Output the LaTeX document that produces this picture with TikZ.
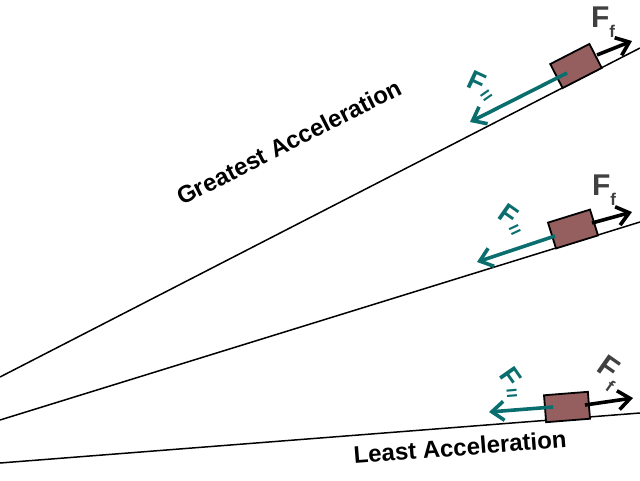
\documentclass[tikz,border=0pt]{standalone}
\usepackage{fontspec}
\setmainfont{Liberation Sans}
\usetikzlibrary{arrows.meta}
\definecolor{teal1}{RGB}{10,110,110}
\definecolor{brick}{RGB}{150,95,95}
\begin{document}
\begin{tikzpicture}[x=1pt,y=-1pt,
 slope/.style={line width=1.5pt},
 blk/.style={draw,line width=1.8pt,fill=brick,minimum width=44pt,minimum height=27pt,inner sep=0pt},
 ff/.style={-{Straight Barb[length=12pt,width=19pt,line width=3.6pt]},line width=3.6pt},
 fp/.style={teal1,-{Straight Barb[length=12pt,width=19pt,line width=3.6pt]},line width=3.6pt},
 lab/.style={font=\bfseries\fontsize{24}{24}\selectfont},
 fl/.style={font=\bfseries\fontsize{30}{30}\selectfont,text=black!75},
 fpl/.style={font=\bfseries\fontsize{27}{27}\selectfont,text=teal1}]
\useasboundingbox (0,0) rectangle (640,480);
\coordinate (t1) at (0,377); \coordinate (t2) at (640,48);
\coordinate (m1) at (0,420); \coordinate (m2) at (640,222);
\coordinate (b1) at (0,463); \coordinate (b2) at (640,413);
\draw[slope] (t1) -- (t2);
\draw[slope] (m1) -- (m2);
\draw[slope] (b1) -- (b2);
% top
\node[blk,rotate=27.2] (B1) at (576,66) {};
\coordinate (B1e) at (632,41); \coordinate (B1w) at (470,122);
\draw[ff] (597,55) -- (B1e);
\draw[fp] (567,73) -- (B1w);
\node[fl] (F1) at (603,22) {F\raisebox{-0.35em}{\fontsize{17}{17}\selectfont f}};
\node[fpl,rotate=-25] (P1) at (482,88) {F\raisebox{-0.3em}{\rotatebox{60}{\fontsize{20}{20}\selectfont =}}};
% middle
\node[blk,rotate=17.2] (B2) at (573,229) {};
\coordinate (B2e) at (632,212); \coordinate (B2w) at (477,262);
\draw[ff] (592,223) -- (B2e);
\draw[fp] (555,236) -- (B2w);
\node[fl] (F2) at (604,190) {F\raisebox{-0.35em}{\fontsize{17}{17}\selectfont f}};
\node[fpl,rotate=-35] (P2) at (512,222) {F\raisebox{-0.3em}{\rotatebox{60}{\fontsize{20}{20}\selectfont =}}};
% bottom
\node[blk,rotate=4.5] (B3) at (567,407) {};
\coordinate (B3e) at (633,398); \coordinate (B3w) at (489,412);
\draw[ff] (585,405) -- (B3e);
\draw[fp] (553,407) -- (B3w);
\node[fl,rotate=-35] (F3) at (608,373) {F\raisebox{-0.35em}{\fontsize{17}{17}\selectfont f}};
\node[fpl,rotate=-55] (P3) at (512,385) {F\raisebox{-0.3em}{\rotatebox{60}{\fontsize{20}{20}\selectfont =}}};
% labels
\node[lab,rotate=26.9] (G) at (289,142) {Greatest Acceleration};
\node[lab,rotate=4.5] (L) at (460,447) {Least Acceleration};
\end{tikzpicture}
\end{document}
